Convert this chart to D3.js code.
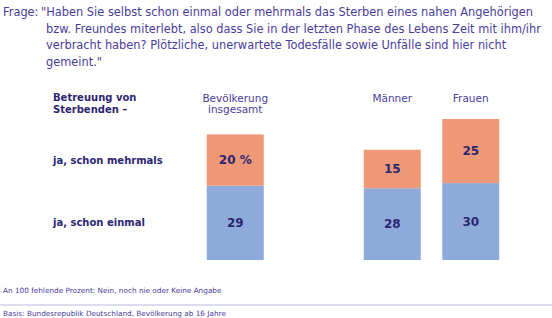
<!DOCTYPE html>
<html>
<head>
<meta charset="utf-8">
<script src="https://cdn.jsdelivr.net/npm/d3@7"></script>
<style>
  body { margin: 0; background: #fff; }
  svg { display: block; font-family: "DejaVu Sans", sans-serif; }
</style>
</head>
<body>
<script>
// data
var groups = ["Bevölkerung insgesamt", "Männer", "Frauen"];
var einmal = [29, 28, 30];
var mehrmals = [20, 15, 25];
var rowLabels = ["ja, schon mehrmals", "ja, schon einmal"];
var questionLines = [
    "\"Haben Sie selbst schon einmal oder mehrmals das Sterben eines nahen Angehörigen",
    "bzw. Freundes miterlebt, also dass Sie in der letzten Phase des Lebens Zeit mit ihm/ihr",
    "verbracht haben? Plötzliche, unerwartete Todesfälle sowie Unfälle sind hier nicht",
    "gemeint.\""
];
var note = "An 100 fehlende Prozent: Nein, noch nie oder Keine Angabe";
var basis = "Basis: Bundesrepublik Deutschland, Bevölkerung ab 16 Jahre";

var width = 552, height = 318;
var orange = "#ef9878", blue = "#8eaadb";
var titleCol = "#4a3d9a", labelCol = "#2c2672";

var svg = d3.select("body").append("svg")
    .attr("width", width)
    .attr("height", height);

// question
svg.append("text")
    .attr("x", 3).attr("y", 16)
    .attr("font-size", 11.4)
    .attr("fill", titleCol)
    .text("Frage:");

svg.append("g").selectAll("text")
    .data(questionLines)
    .enter().append("text")
    .attr("x", (d, i) => i == 0 ? 41 : 46)
    .attr("y", (d, i) => 16 + i * 16.5)
    .attr("font-size", 11.4)
    .attr("fill", titleCol)
    .text(d => d);

// scales - empty slot between total and the gender split
var x = d3.scaleBand()
    .domain([groups[0], "_gap", groups[1], groups[2]])
    .range([196, 510])
    .paddingInner(0.274)
    .paddingOuter(0.137);

var y = d3.scaleLinear()
    .domain([0, 55])
    .range([260, 119]);

var data = groups.map((g, i) => ({ group: g, einmal: einmal[i], mehrmals: mehrmals[i] }));

// left heading
var head = svg.append("text")
    .attr("x", 53).attr("y", 101)
    .attr("font-size", 10)
    .attr("font-weight", "bold")
    .attr("fill", labelCol);
head.append("tspan").attr("x", 53).text("Betreuung von");
head.append("tspan").attr("x", 53).attr("dy", 11.5).text("Sterbenden –");

// column headers
svg.append("g").selectAll("text")
    .data(groups)
    .enter().append("text")
    .attr("x", d => x(d) + x.bandwidth() / 2)
    .attr("y", 101.5)
    .attr("text-anchor", "middle")
    .attr("font-size", 10.5)
    .attr("fill", titleCol)
    .each(function (d) {
        var t = d3.select(this);
        d.split(" ").forEach((w, i) => {
            t.append("tspan")
                .attr("x", x(d) + x.bandwidth() / 2)
                .attr("dy", i == 0 ? 0 : 11)
                .text(w);
        });
    });

// bars
var bars = svg.append("g").attr("class", "bars");
bars.selectAll("rect.einmal")
    .data(data)
    .enter().append("rect")
    .attr("class", "einmal")
    .attr("x", d => x(d.group))
    .attr("y", d => y(d.einmal))
    .attr("width", x.bandwidth())
    .attr("height", d => y(0) - y(d.einmal))
    .attr("fill", blue);

bars.selectAll("rect.mehrmals")
    .data(data)
    .enter().append("rect")
    .attr("class", "mehrmals")
    .attr("x", d => x(d.group))
    .attr("y", d => y(d.einmal + d.mehrmals))
    .attr("width", x.bandwidth())
    .attr("height", d => y(d.einmal) - y(d.einmal + d.mehrmals))
    .attr("fill", orange);

// value labels
var labels = svg.append("g").attr("font-size", 12).attr("font-weight", "bold")
    .attr("fill", labelCol).attr("text-anchor", "middle");
labels.selectAll("text.e")
    .data(data)
    .enter().append("text")
    .attr("x", d => x(d.group) + x.bandwidth() / 2)
    .attr("y", d => (y(0) + y(d.einmal)) / 2)
    .attr("dy", "0.36em")
    .text(d => d.einmal);
labels.selectAll("text.m")
    .data(data)
    .enter().append("text")
    .attr("x", d => x(d.group) + x.bandwidth() / 2)
    .attr("y", d => (y(d.einmal) + y(d.einmal + d.mehrmals)) / 2)
    .attr("dy", "0.36em")
    .text((d, i) => i == 0 ? d.mehrmals + " %" : d.mehrmals);

// row labels aligned to the first bar segments
var first = data[0];
var rowY = [(y(first.einmal) + y(first.einmal + first.mehrmals)) / 2, (y(0) + y(first.einmal)) / 2];
svg.append("g").selectAll("text")
    .data(rowLabels)
    .enter().append("text")
    .attr("x", 53)
    .attr("y", (d, i) => rowY[i])
    .attr("dy", "0.36em")
    .attr("font-size", 10)
    .attr("font-weight", "bold")
    .attr("fill", labelCol)
    .text(d => d);

// footer
svg.append("text")
    .attr("x", 3).attr("y", 293)
    .attr("font-size", 7.3)
    .attr("fill", titleCol)
    .text(note);

svg.append("line")
    .attr("x1", 0).attr("x2", width)
    .attr("y1", 305).attr("y2", 305)
    .attr("stroke", "#b9b9e0")
    .attr("stroke-width", 1);

svg.append("text")
    .attr("x", 3).attr("y", 316)
    .attr("font-size", 7.3)
    .attr("fill", titleCol)
    .text(basis);
</script>
</body>
</html>
